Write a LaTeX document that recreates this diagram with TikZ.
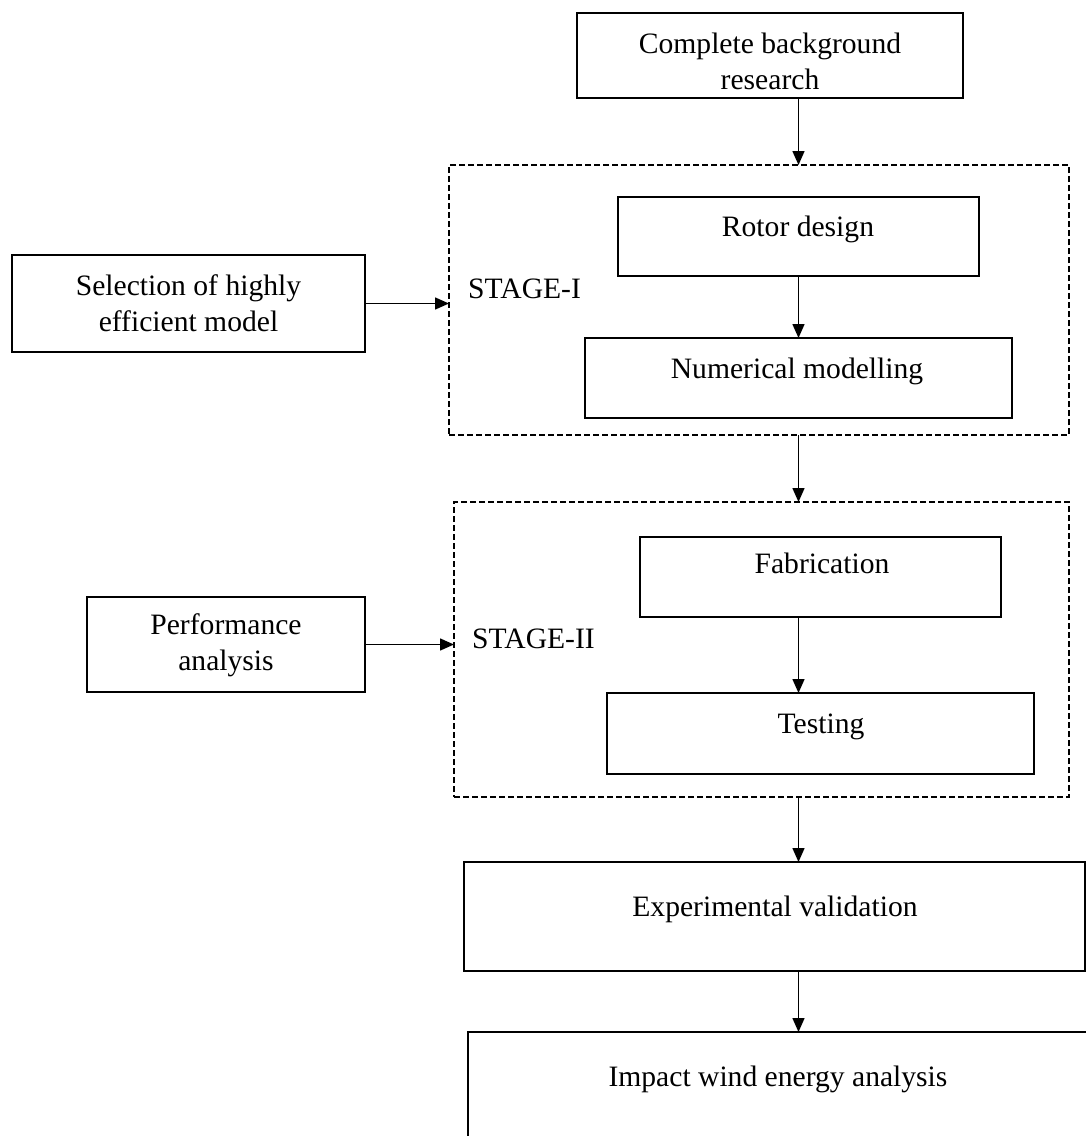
\documentclass[tikz,border=0pt]{standalone}
\usepackage{fontspec}
\setmainfont{Liberation Serif}
\usetikzlibrary{arrows.meta}
\begin{document}
\begin{tikzpicture}[x=1pt,y=-1pt,
  box/.style={draw, line width=1.5pt, rectangle, inner sep=0pt, outer sep=0pt},
  stagebox/.style={draw, line width=1.2pt, dash pattern=on 6pt off 3pt, rectangle, inner sep=0pt, outer sep=0pt},
  txt/.style={font=\fontsize{29.6pt}{36pt}\selectfont, align=center, inner sep=0pt, text height=20.7pt, text depth=6.5pt},
  mtxt/.style={font=\fontsize{29.6pt}{36pt}\selectfont, align=center, inner sep=0pt},
  arr/.style={line width=1.5pt, -{Triangle[length=14pt,width=12pt]}}]
\useasboundingbox (0,0) rectangle (1086,1136);
\clip (0,0) rectangle (1086,1136);

% boxes
\node[box, minimum width=386pt, minimum height=85pt] (top) at (770,55.5) {};
\node[stagebox, minimum width=620pt, minimum height=270pt] (stage1) at (759,300) {};
\node[box, minimum width=361pt, minimum height=79pt] (rotor) at (798.5,236.5) {};
\node[box, minimum width=427pt, minimum height=80pt] (numer) at (798.5,378) {};
\node[box, minimum width=353pt, minimum height=97pt] (select) at (188.5,303.5) {};
\node[stagebox, minimum width=615pt, minimum height=295pt] (stage2) at (761.5,649.5) {};
\node[box, minimum width=361pt, minimum height=80pt] (fab) at (820.5,577) {};
\node[box, minimum width=427pt, minimum height=81pt] (test) at (820.5,733.5) {};
\node[box, minimum width=278pt, minimum height=95pt] (perf) at (226,644.5) {};
\node[box, minimum width=621pt, minimum height=109pt] (exp) at (774.5,916.5) {};
\node[box, minimum width=622pt, minimum height=118pt] (impact) at (779,1091) {};

% texts
\node[mtxt] (ttop) at (770,61) {Complete background\\research};
\node[mtxt] (tselect) at (188.5,303.5) {Selection of highly\\efficient model};
\node[mtxt] (tperf) at (226,645.5) {Performance\\analysis};
\node[txt, anchor=west] (tstage1) at (468,291) {STAGE-I};
\node[txt, anchor=west] (tstage2) at (472,641) {STAGE-II};
\node[txt] (trotor) at (798,229) {Rotor design};
\node[txt] (tnumer) at (797,371) {Numerical modelling};
\node[txt] (tfab) at (822,566) {Fabrication};
\node[txt] (ttest) at (821,726) {Testing};
\node[txt] (texp) at (775,909) {Experimental validation};
\node[txt] (timpact) at (778,1079) {Impact wind energy analysis};

% connectors
\draw[arr] (top.south -| rotor.center) -- (stage1.north -| rotor.center);
\draw[arr] (rotor.south) -- (numer.north);
\draw[arr] (stage1.south -| rotor.center) -- (stage2.north -| rotor.center);
\draw[arr] (fab.south -| rotor.center) -- (test.north -| rotor.center);
\draw[arr] (stage2.south -| rotor.center) -- (exp.north -| rotor.center);
\draw[arr] (exp.south -| rotor.center) -- (impact.north -| rotor.center);
\draw[arr] (select.east) -- (select.east -| stage1.west);
\draw[arr] (perf.east) -- (perf.east -| stage2.west);
\end{tikzpicture}
\end{document}
